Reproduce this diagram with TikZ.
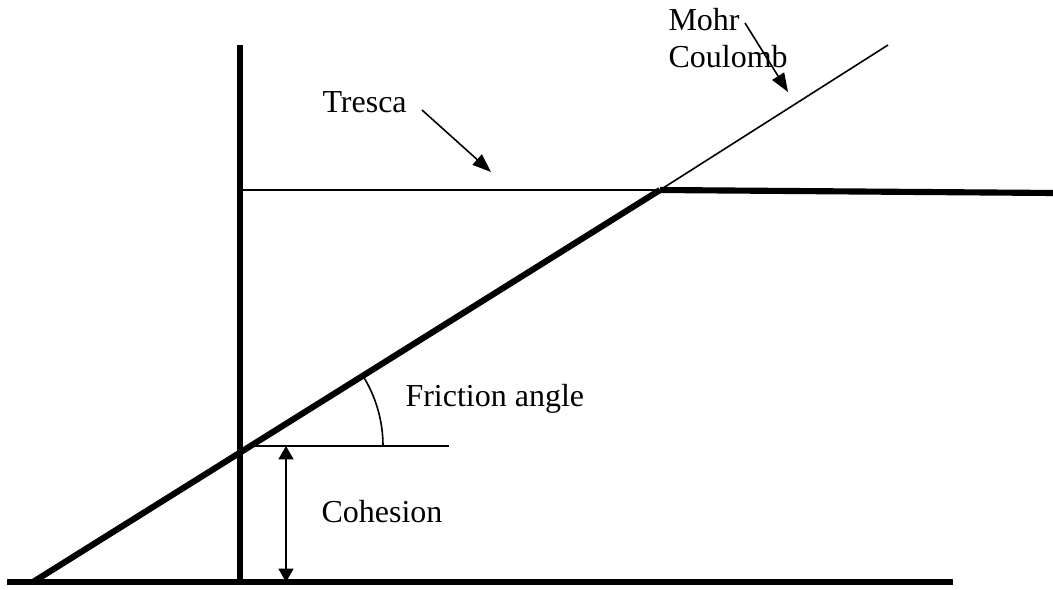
\documentclass[tikz,border=0pt]{standalone}
\usepackage{fontspec}
\setmainfont{Liberation Serif}
\usepackage{tikz}
\usetikzlibrary{arrows.meta}

\begin{document}
\begin{tikzpicture}[x=0.375pt,y=-0.375pt,
  thickline/.style={line width=2.3pt},
  thinline/.style={line width=0.6pt},
  lbl/.style={anchor=base west,inner sep=0pt,font=\fontsize{12}{13.9}\selectfont,align=left},
  tip/.style={-{Triangle[length=7pt,width=5.2pt]},line width=0.6pt},
  dimarrow/.style={{Triangle[length=5pt,width=5.6pt]}-{Triangle[length=5pt,width=5.6pt]},line width=0.6pt}]
\useasboundingbox (0,0) rectangle (1053,590);
% axes
\coordinate (hl) at (7,582);
\coordinate (hr) at (953,582);
\coordinate (vb) at (240,582);
\coordinate (vt) at (240,45);
\draw[thickline] (hl) -- (hr);
\draw[thickline] (vb) -- (vt);
% Mohr Coulomb envelope
\coordinate (mc0) at (33,582);
\coordinate (yld) at (660,190);
\coordinate (mc1) at (888,45);
\draw[thickline] (mc0) -- (yld);
\draw[thinline] (yld) -- (mc1);
% Tresca envelope
\coordinate (tr0) at (240,190);
\coordinate (tr1) at (1053,193);
\draw[thinline] (tr0) -- (yld);
\draw[thickline] (yld) -- (tr1);
% friction angle and cohesion
\coordinate (coh) at (250.5,446);
\coordinate (fr1) at (449,446);
\coordinate (arc0) at (383,446);
\draw[thinline] (coh) -- (fr1);
\draw[thinline] (arc0) arc[start angle=0,end angle=-32,radius=132.5];
\coordinate (ch0) at (286,446);
\coordinate (ch1) at (286,582);
\draw[dimarrow] (ch0) -- (ch1);
% labels
\node[lbl] (tresca) at (322,113) {Tresca};
\node[lbl] (friction) at (405,407) {Friction angle};
\node[lbl] (cohesion) at (321,523) {Cohesion};
\node[lbl] (mohr) at (668,68) {Mohr\\Coulomb};
\coordinate (trtail) at (422,110);
\coordinate (trhead) at (491,172);
\draw[tip] (trtail) -- (trhead);
\coordinate (mctail) at (745,23);
\coordinate (mchead) at (788,92);
\draw[tip] (mctail) -- (mchead);
\end{tikzpicture}
\end{document}
